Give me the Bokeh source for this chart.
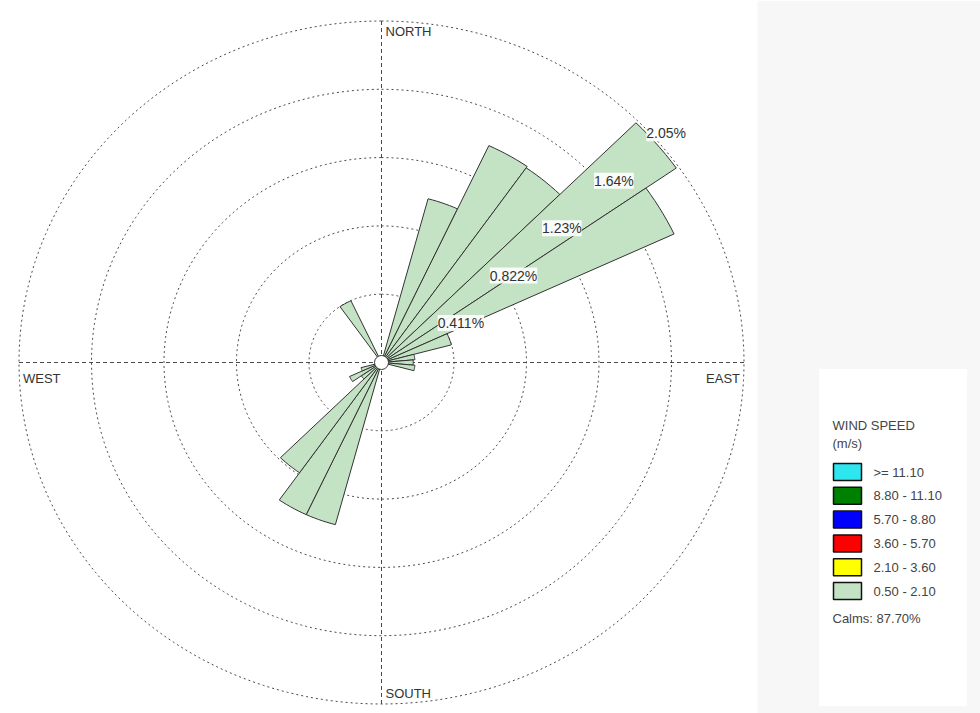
import numpy as np
from bokeh.plotting import figure
from bokeh.models import Range1d, BoxAnnotation, LabelSet, ColumnDataSource
from bokeh.core.properties import value
from bokeh.embed import file_html
from bokeh.resources import INLINE

# ---------------- data ----------------
directions = [20, 30, 40, 50, 60, 70, 80, 90, 100, 200, 210, 220, 230, 240, 250, 330]   # sector centres, deg
frequency = [1.02, 1.44, 1.43, 2.04, 1.83, 0.41, 0.19, 0.18, 0.19, 1.01, 1.01, 0.81, 0.14, 0.20, 0.12, 0.41]  # %
sector_width = 10.0
ring_values = [0.411, 0.822, 1.233, 1.644, 2.055]
ring_labels = ["0.411%", "0.822%", "1.23%", "1.64%", "2.05%"]
compass_labels = ["NORTH", "EAST", "SOUTH", "WEST"]
speed_classes = [">= 11.10", "8.80 - 11.10", "5.70 - 8.80", "3.60 - 5.70", "2.10 - 3.60", "0.50 - 2.10"]
class_colors = ["#2ee6f0", "#008000", "#0000ff", "#ff0000", "#ffff00", "#c4e2c4"]
calms = 87.70

# ---------------- layout ----------------
W, H = 980, 713
ORG = 0                  # page offset of the figure as photographed
CX, CY = 381, 362        # rose centre (page px)
KX = 72.5 / 0.411        # px per percent, horizontal
KY = 68.3 / 0.411        # px per percent, vertical


def px(X):
    return (X - CX) / KX


def py(Y):
    return (CY - Y) / KY


p = figure(width=W, height=H, output_backend="svg", toolbar_location=None,
           x_range=Range1d(px(ORG), px(ORG + W)), y_range=Range1d(py(ORG + H), py(ORG)),
           x_axis_location=None, y_axis_location=None, min_border=0)
p.grid.visible = False
p.outline_line_color = None
p.background_fill_color = "white"
p.border_fill_color = "#f7f7f7"

# grey side panel and white legend panel
p.add_layout(BoxAnnotation(left=px(757), fill_color="#f7f7f7", fill_alpha=1.0,
                           line_alpha=0, level="underlay"))
p.add_layout(BoxAnnotation(left=px(818), right=px(967), top=py(368), bottom=py(706),
                           fill_color="white", fill_alpha=1.0, line_color="#eeeeee",
                           level="underlay"))

R = ring_values[-1]
# rings
for r in ring_values:
    t = np.linspace(0, 2 * np.pi, 361)
    p.line(r * np.sin(t), r * np.cos(t), line_color="#4a4a4a", line_dash="2 3", line_width=1)
# axes
p.line([-R, R], [0, 0], line_color="#4a4a4a", line_dash="4 3", line_width=1)
p.line([0, 0], [-R, R], line_color="#4a4a4a", line_dash="4 3", line_width=1)

# petals
xs, ys = [], []
for d, f in zip(directions, frequency):
    a = np.radians(np.linspace(d - sector_width / 2, d + sector_width / 2, 8))
    xs.append([0.0] + list(f * np.sin(a)))
    ys.append([0.0] + list(f * np.cos(a)))
p.patches(xs, ys, fill_color=class_colors[-1], line_color="#333333", line_width=1)

# calm circle
p.scatter([0], [0], size=14, marker="circle", fill_color="white", line_color="#333333")

# ring labels
lab_ang = np.radians(46)
src = ColumnDataSource(dict(x=[r * np.sin(lab_ang) for r in ring_values],
                            y=[r * np.cos(lab_ang) for r in ring_values],
                            t=ring_labels))
p.add_layout(LabelSet(x="x", y="y", text="t", source=src, x_offset=4, y_offset=-8,
                      text_align="left", text_baseline="middle",
                      text_font=value("Liberation Sans"), text_font_size="14px",
                      text_color="#333333", background_fill_color="white",
                      background_fill_alpha=0.9))

# compass labels
comp_pos = {"NORTH": (0, R, "left", "top", 4, 3),
            "EAST": (R, 0, "right", "top", -4, 8),
            "SOUTH": (0, -R, "left", "bottom", 4, -3),
            "WEST": (-R, 0, "left", "top", 4, 8)}
for name in compass_labels:
    x, y, al, bl, xo, yo = comp_pos[name]
    p.text([x], [y], text=[name], text_align=al, text_baseline=bl, x_offset=xo, y_offset=yo,
           text_font=value("Liberation Sans"), text_font_size="13px", text_color="#333333")

# legend
p.text([px(832)], [py(425)], text=["WIND SPEED"], text_baseline="middle",
       text_font=value("Liberation Sans"), text_font_size="13px", text_color="#444444")
p.text([px(832)], [py(443)], text=["(m/s)"], text_baseline="middle",
       text_font=value("Liberation Sans"), text_font_size="13px", text_color="#444444")
sw_y = [py(471.5 + i * 23.8) for i in range(len(speed_classes))]
p.rect([px(847)] * len(speed_classes), sw_y, width=28, height=17,
       width_units="screen", height_units="screen",
       fill_color=class_colors, line_color="#111111", line_width=1.5)
p.text([px(873)] * len(speed_classes), sw_y, text=speed_classes, text_baseline="middle",
       text_font=value("Liberation Sans"), text_font_size="13px", text_color="#444444")
p.text([px(832)], [py(618)], text=["Calms: %.2f%%" % calms], text_baseline="middle",
       text_font=value("Liberation Sans"), text_font_size="13px", text_color="#444444")

open("out.html", "w").write(file_html(p, INLINE))
